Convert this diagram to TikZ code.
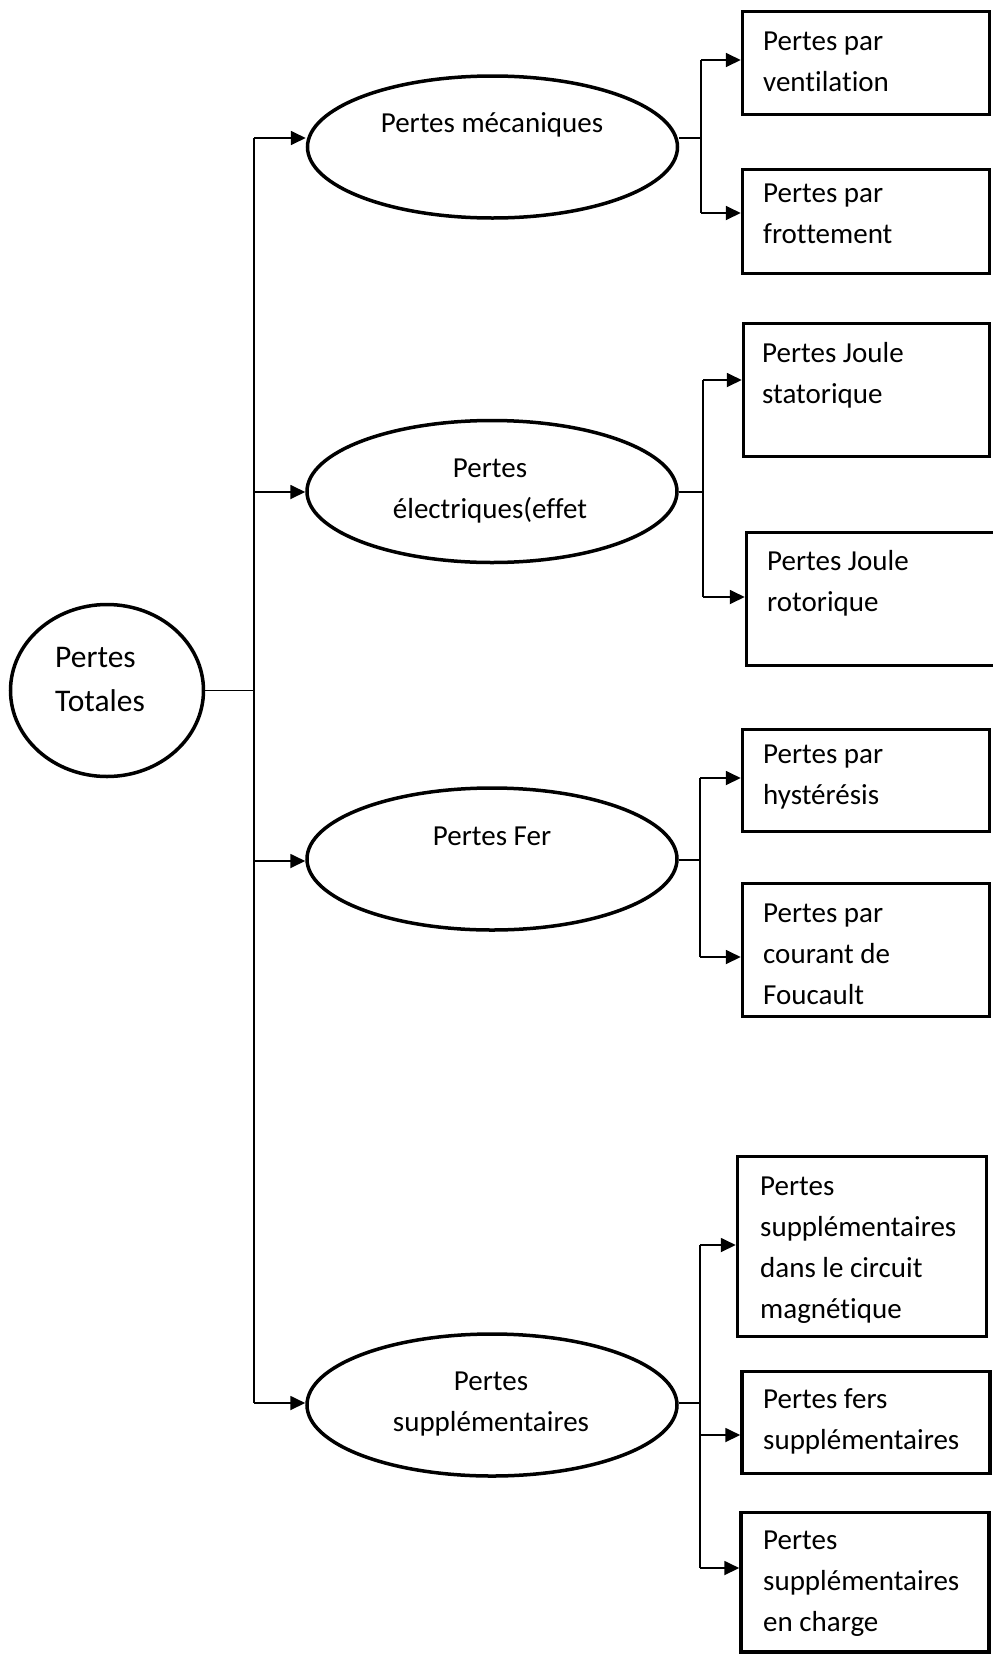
\documentclass[tikz,border=0pt]{standalone}
\usepackage{fontspec}
\setmainfont{Carlito}[Ligatures=NoCommon]
\usetikzlibrary{shapes.geometric,arrows.meta}
\newcommand\boxfont{\fontsize{29}{41}\selectfont}
\newcommand\rootfont{\fontsize{31.5}{44}\selectfont}
\newcommand\fs{\rule{0pt}{24pt}}
\newcommand\rfs{\rule{0pt}{26pt}}
\tikzset{
 ell/.style={draw, ellipse, line width=3.5pt, minimum width=370pt, minimum height=142pt, inner sep=0pt},
 rootell/.style={draw, ellipse, line width=3.5pt, minimum width=193pt, minimum height=172pt, inner sep=0pt},
 leaf/.style={draw, rectangle, line width=3.5pt, inner sep=0pt},
 ltxt/.style={anchor=north west, yshift=24pt, align=left, inner sep=0pt, font=\boxfont},
 etxt/.style={anchor=north, yshift=24pt, align=center, inner sep=0pt, font=\boxfont},
 rtxt/.style={anchor=north west, yshift=26pt, align=left, inner sep=0pt, font=\rootfont},
 conn/.style={line width=1.8pt},
 arr/.style={conn, -{Triangle[length=15pt,width=14pt]}},
}
\begin{document}
\begin{tikzpicture}[x=1pt,y=-1pt]
\useasboundingbox (0,0) rectangle (993,1663);
% root
\node[rootell] (root) at (107,690.5) {};
\node[rtxt] (rootT) at (55,667) {\rfs Pertes\\Totales};
% ellipses
\node[ell] (mec) at (492.5,147) {};
\node[etxt] (mecT) at (492,132) {\fs Pertes m\'ecaniques};
\node[ell] (ele) at (492,491.5) {};
\node[etxt] (eleT) at (490,477) {\fs Pertes\\\'electriques(effet};
\node[ell] (fer) at (492,859) {};
\node[etxt] (ferT) at (492,845) {\fs Pertes Fer};
\node[ell] (sup) at (492,1405) {};
\node[etxt] (supT) at (491,1390) {\fs Pertes\\suppl\'ementaires};
% boxes
\node[leaf, minimum width=247pt, minimum height=103pt] (b1) at (866,63) {};
\node[ltxt] (b1T) at (763,50) {\fs Pertes par\\ventilation};
\node[leaf, minimum width=247pt, minimum height=104pt] (b2) at (866,221.5) {};
\node[ltxt] (b2T) at (763,202) {\fs Pertes par\\frottement};
\node[leaf, minimum width=246pt, minimum height=133pt] (b3) at (866.5,390) {};
\node[ltxt] (b3T) at (762,362) {\fs Pertes Joule\\statorique};
\node[leaf, minimum width=248pt, minimum height=133pt] (b4) at (870.5,599) {};
\node[ltxt] (b4T) at (767,570) {\fs Pertes Joule\\rotorique};
\node[leaf, minimum width=247pt, minimum height=102pt] (b5) at (866,780.5) {};
\node[ltxt] (b5T) at (763,763) {\fs Pertes par\\hyst\'er\'esis};
\node[leaf, minimum width=247pt, minimum height=133pt] (b6) at (866,950) {};
\node[ltxt] (b6T) at (763,922) {\fs Pertes par\\courant de\\Foucault};
\node[leaf, minimum width=249pt, minimum height=180pt] (b7) at (862,1246.5) {};
\node[ltxt] (b7T) at (760,1195) {\fs Pertes\\suppl\'ementaires\\dans le circuit\\magn\'etique};
\node[leaf, minimum width=248pt, minimum height=102pt] (b8) at (866,1422.5) {};
\node[ltxt] (b8T) at (763,1408) {\fs Pertes fers\\suppl\'ementaires};
\node[leaf, minimum width=248pt, minimum height=139.5pt] (b9) at (865,1582) {};
\node[ltxt] (b9T) at (763,1549) {\fs Pertes\\suppl\'ementaires\\en charge};
% junction coordinates
\coordinate (T1) at (254,138);
\coordinate (T2) at (254,492);
\coordinate (T3) at (254,861);
\coordinate (T4) at (254,1403);
\coordinate (R1) at (701,138);
\coordinate (A1a) at (701,60);
\coordinate (A1b) at (701,213);
\coordinate (R2) at (703,492);
\coordinate (A2a) at (703,380);
\coordinate (A2b) at (703,597);
\coordinate (R3) at (700,860);
\coordinate (A3a) at (700,778);
\coordinate (A3b) at (700,957);
\coordinate (R4) at (700,1403);
\coordinate (A4a) at (700,1245);
\coordinate (A4b) at (700,1435);
\coordinate (A4c) at (700,1568);
% left trunk
\draw[conn] (root.east) -- (root.east -| T1);
\draw[conn] (T1) -- (T4);
\draw[arr] (T1) -- (T1 -| mec.west);
\draw[arr] (T2) -- (T2 -| ele.west);
\draw[arr] (T3) -- (T3 -| fer.west);
\draw[arr] (T4) -- (T4 -| sup.west);
% mecaniques
\draw[conn] (R1 -| mec.east) -- (R1);
\draw[conn] (A1a) -- (A1b);
\draw[arr] (A1a) -- (A1a -| b1.west);
\draw[arr] (A1b) -- (A1b -| b2.west);
% electriques
\draw[conn] (R2 -| ele.east) -- (R2);
\draw[conn] (A2a) -- (A2b);
\draw[arr] (A2a) -- (A2a -| b3.west);
\draw[arr] (A2b) -- (A2b -| b4.west);
% fer
\draw[conn] (R3 -| fer.east) -- (R3);
\draw[conn] (A3a) -- (A3b);
\draw[arr] (A3a) -- (A3a -| b5.west);
\draw[arr] (A3b) -- (A3b -| b6.west);
% supplementaires
\draw[conn] (R4 -| sup.east) -- (R4);
\draw[conn] (A4a) -- (A4c);
\draw[arr] (A4a) -- (A4a -| b7.west);
\draw[arr] (A4b) -- (A4b -| b8.west);
\draw[arr] (A4c) -- (A4c -| b9.west);
\end{tikzpicture}
\end{document}
